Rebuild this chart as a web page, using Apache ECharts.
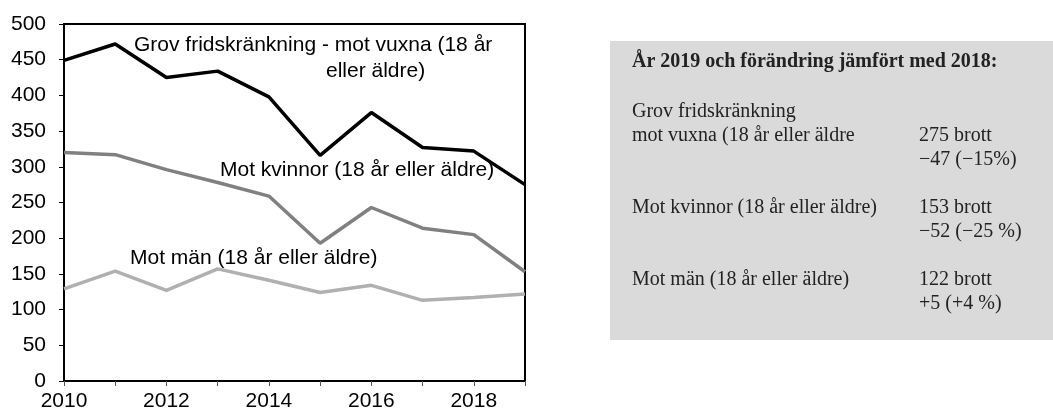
<!DOCTYPE html>
<html>
<head>
<meta charset="utf-8">
<script src="https://cdn.jsdelivr.net/npm/echarts@6/dist/echarts.min.js"></script>
<style>
html, body { margin: 0; padding: 0; background: #fff; }
#container { width: 1053px; height: 414px; }
</style>
</head>
<body>
<div id="container"></div>
<script>
var years = [2010, 2011, 2012, 2013, 2014, 2015, 2016, 2017, 2018, 2019];
var vuxna = [449, 472, 425, 434, 398, 316, 376, 327, 322, 275];
var kvinnor = [320, 317, 296, 278, 259, 193, 243, 214, 205, 153];
var man = [129, 154, 127, 157, 141, 124, 134, 113, 117, 122];

var yTicks = { min: 0, max: 500, step: 50 };

// text in the grey box on the right
var boxTitle = 'År 2019 och förändring jämfört med 2018:';
var boxNames = [['Grov fridskränkning', 'mot vuxna (18 år eller äldre'], ['Mot kvinnor (18 år eller äldre)'], ['Mot män (18 år eller äldre)']];
var boxCounts = ['275 brott', '153 brott', '122 brott'];
var boxChanges = ['\u221247 (\u221215%)', '\u221252 (\u221225 %)', '+5 (+4 %)'];

var dom = document.getElementById("container");
var myChart = echarts.init(dom);

function pairs(vals) {
    var out = [];
    for (var i = 0; i < years.length; i++) {
        out.push([years[i], vals[i]]);
    }
    return out;
}

var sans = '"Liberation Sans", Arial, sans-serif';
var serif = '"Liberation Serif", "Times New Roman", serif';

function label(txt, x, y) {
    return {
        type: 'text', left: x, top: y - 12,
        style: { text: txt, font: '21px ' + sans, fill: '#000' }
    };
}

function serifText(txt, x, y, bold) {
    var size = 20;
    return {
        type: 'text', left: x, top: y - size * 0.5,
        style: { text: txt, font: (bold ? 'bold ' : '') + size + 'px ' + serif, fill: '#222' }
    };
}

var graphics = [
    { type: 'rect', left: 610, top: 41, shape: { width: 443, height: 299 }, style: { fill: '#dadada' } },
    label('Grov fridskränkning - mot vuxna (18 år', 134, 47),
    label('eller äldre)', 326, 73),
    label('Mot kvinnor (18 år eller äldre)', 220, 172),
    label('Mot män (18 år eller äldre)', 130, 260),
    serifText(boxTitle, 632, 62, true),
    serifText(boxNames[0][0], 632, 112),
    serifText(boxNames[0][1], 632, 136),
    serifText(boxCounts[0], 919, 136),
    serifText(boxChanges[0], 919, 160),
    serifText(boxNames[1][0], 632, 208),
    serifText(boxCounts[1], 919, 208),
    serifText(boxChanges[1], 919, 232),
    serifText(boxNames[2][0], 632, 280),
    serifText(boxCounts[2], 919, 280),
    serifText(boxChanges[2], 919, 304)
];

var option = {
    animation: false,
    grid: {
        left: 64, top: 24, right: 528, bottom: 33,
        show: true, borderColor: '#000', borderWidth: 2
    },
    xAxis: {
        type: 'value',
        min: 2010, max: 2019, interval: 1,
        splitLine: { show: false },
        axisLine: { lineStyle: { color: '#000', width: 2 } },
        axisTick: { length: 5, lineStyle: { color: '#555', width: 1 } },
        axisLabel: {
            fontSize: 21, fontFamily: sans, color: '#000', margin: 10,
            formatter: function (v) { return v % 2 == 0 ? String(v) : ''; }
        }
    },
    yAxis: {
        type: 'value',
        min: yTicks.min, max: yTicks.max, interval: yTicks.step,
        splitLine: { show: false },
        axisLine: { show: true, lineStyle: { color: '#000', width: 2 } },
        axisTick: { show: true, length: 5, lineStyle: { color: '#000', width: 1 } },
        axisLabel: { fontSize: 21, fontFamily: sans, color: '#000', margin: 18 }
    },
    series: [
        {
            name: 'vuxna', type: 'line', data: pairs(vuxna), symbol: 'none',
            lineStyle: { color: '#000', width: 3.5 }, z: 4
        },
        {
            name: 'kvinnor', type: 'line', data: pairs(kvinnor), symbol: 'none',
            lineStyle: { color: '#808080', width: 3.5 }, z: 3
        },
        {
            name: 'man', type: 'line', data: pairs(man), symbol: 'none',
            lineStyle: { color: '#b0b0b0', width: 3.5 }, z: 2
        }
    ],
    graphic: graphics
};

myChart.setOption(option);
</script>
</body>
</html>
